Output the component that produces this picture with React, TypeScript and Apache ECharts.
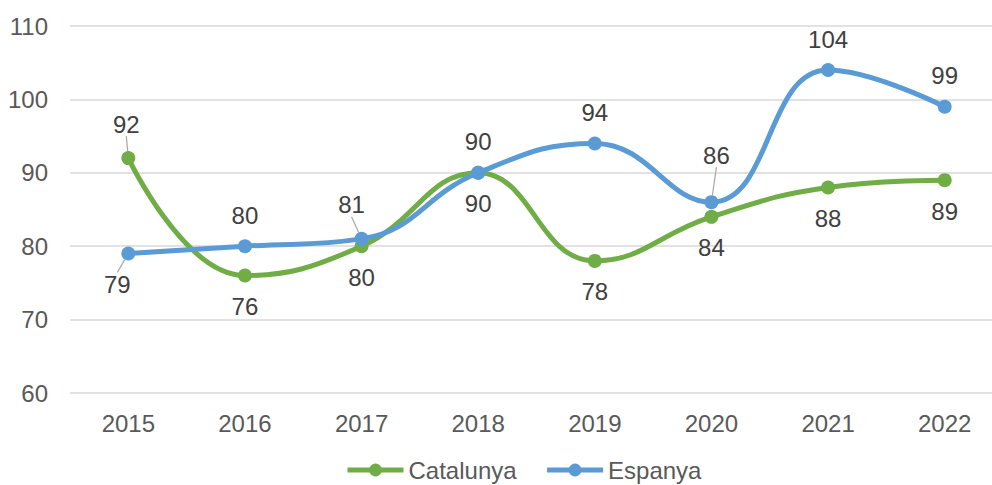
import React, { useEffect, useRef } from "react";
import * as echarts from "echarts";

const years = ["2015", "2016", "2017", "2018", "2019", "2020", "2021", "2022"];
const catalunya = [92, 76, 80, 90, 78, 84, 88, 89];
const espanya = [79, 80, 81, 90, 94, 86, 104, 99];
// label placement: "top" or "bottom"
const catPos = ["top", "bottom", "bottom", "bottom", "bottom", "bottom", "bottom", "bottom"];
const espPos = ["bottom", "top", "top", "top", "top", "top", "top", "top"];
// which labels get a leader line
const catLeader = [true, false, false, false, false, false, false, false];
const espLeader = [true, false, true, false, false, true, false, false];

const FONT = "'Liberation Sans', Arial, sans-serif";

export default function App() {
  const ref = useRef<HTMLDivElement>(null);
  useEffect(() => {
    if (!ref.current) return;
    const chart = echarts.init(ref.current, undefined, { renderer: "svg" });
    const labelStyle = { color: "#404040", fontSize: 24, fontFamily: FONT, distance: 12 };
    const mk = (vals: number[], pos: string[], leader: boolean[]) =>
      vals.map((v, i) => ({
        value: v,
        label: { position: pos[i] },
        labelLine: { show: leader[i], lineStyle: { color: "#A6A6A6", width: 1.2 } },
      }));
    chart.setOption({
      animation: false,
      textStyle: { fontFamily: FONT },
      grid: { left: 70, top: 26, width: 933, height: 367, outerBoundsMode: "none", containLabel: false },
      xAxis: {
        type: "category",
        data: years,
        boundaryGap: true,
        axisLine: { show: false },
        axisTick: { show: false },
        axisLabel: { color: "#595959", fontSize: 24, margin: 18, fontFamily: FONT },
      },
      yAxis: {
        type: "value",
        min: 60,
        max: 110,
        interval: 10,
        axisLine: { show: false },
        axisTick: { show: false },
        axisLabel: { color: "#595959", fontSize: 24, margin: 22, fontFamily: FONT },
        splitLine: { lineStyle: { color: "#D9D9D9", width: 1.5 } },
      },
      legend: {
        bottom: -2,
        left: 340,
        itemWidth: 56,
        itemHeight: 16,
        itemGap: 28,
        lineStyle: { width: 5 },
        textStyle: { color: "#595959", fontSize: 24, fontFamily: FONT },
        data: ["Catalunya", "Espanya"],
      },
      labelLayout: (p: any) => {
        if (p.seriesIndex === 0 && p.dataIndex === 0) return { dx: -2, dy: -3 };
        if (p.seriesIndex === 1 && p.dataIndex === 0) return { dx: -11, dy: 0 };
        if (p.seriesIndex === 1 && p.dataIndex === 2) return { dx: -10, dy: -3 };
        if (p.seriesIndex === 1 && p.dataIndex === 5) return { dx: 5, dy: -16 };
        return {};
      },
      series: [
        {
          name: "Catalunya",
          type: "line",
          smooth: 0.45,
          data: mk(catalunya, catPos, catLeader),
          symbol: "circle",
          symbolSize: 14,
          itemStyle: { color: "#70AD47" },
          lineStyle: { color: "#70AD47", width: 5 },
          label: { show: true, ...labelStyle },
          labelLine: { show: false },
          z: 2,
        },
        {
          name: "Espanya",
          type: "line",
          smooth: 0.45,
          data: mk(espanya, espPos, espLeader),
          symbol: "circle",
          symbolSize: 14,
          itemStyle: { color: "#5B9BD5" },
          lineStyle: { color: "#5B9BD5", width: 5 },
          label: { show: true, ...labelStyle },
          labelLine: { show: false },
          z: 3,
        },
      ],
    });
    return () => chart.dispose();
  }, []);
  return (
    <div
      ref={ref}
      style={{ position: "fixed", left: 0, top: 0, width: 992, height: 485, background: "#fff" }}
    />
  );
}
